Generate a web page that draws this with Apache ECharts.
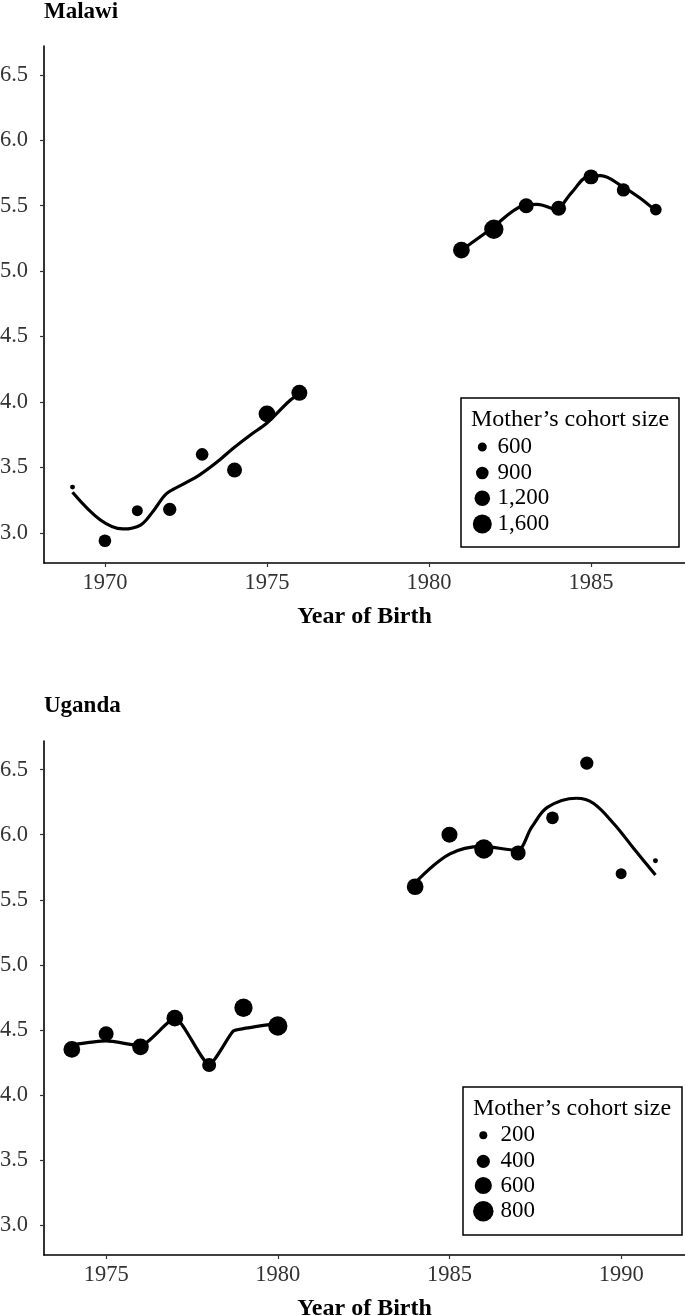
<!DOCTYPE html>
<html><head><meta charset="utf-8">
<script src="https://cdn.jsdelivr.net/npm/echarts@6/dist/echarts.min.js"></script>
<style>html,body{margin:0;padding:0;background:#fff}#c{width:685px;height:1316px}</style>
</head><body><div id="c"></div>
<script>
// ---------- DATA ----------
const malawiYears  = [1969,1970,1971,1972,1973,1974,1975,1976,1981,1982,1983,1984,1985,1986,1987];
const malawiValues = [3.35,2.94,3.17,3.18,3.60,3.48,3.91,4.07,5.16,5.32,5.50,5.48,5.72,5.62,5.47];
const malawiCohort = [330,910,760,970,910,1140,1330,1250,1330,1640,1140,1140,1140,970,820];

const malawiFitYears1  = [1969,1969.85,1970.55,1971.1,1971.5,1971.9,1972.4,1972.9,1973.45,1973.95,1974.5,1975,1975.7,1976];
const malawiFitValues1 = [3.31,3.10,3.03,3.06,3.17,3.30,3.37,3.44,3.54,3.645,3.75,3.84,4.01,4.06];
const malawiFitYears2  = [1981,1981.9,1982.9,1983.35,1983.9,1984.4,1984.87,1985.3,1985.95,1986.5,1987];
const malawiFitValues2 = [5.16,5.32,5.50,5.51,5.475,5.60,5.72,5.73,5.65,5.56,5.46];

const ugandaYears  = [1974,1975,1976,1977,1978,1979,1980,1984,1985,1986,1987,1988,1989,1990,1991];
const ugandaValues = [4.35,4.47,4.37,4.59,4.23,4.67,4.53,5.60,6.00,5.89,5.86,6.13,6.55,5.70,5.80];
const ugandaCohort = [575,487,575,575,438,665,725,575,538,725,487,379,405,307,115];

const ugandaFitYears1  = [1974,1975,1976,1977,1978,1978.7,1979,1980];
const ugandaFitValues1 = [4.385,4.415,4.38,4.59,4.235,4.49,4.51,4.55];
const ugandaFitYears2  = [1984,1985,1985.95,1986.95,1987.4,1987.85,1988.7,1989.2,1989.8,1990.35,1991];
const ugandaFitValues2 = [5.63,5.85,5.91,5.88,6.06,6.21,6.28,6.24,6.08,5.90,5.69];

const yTicks = [3.0,3.5,4.0,4.5,5.0,5.5,6.0,6.5];
const malawiXTicks = [1970,1975,1980,1985];
const ugandaXTicks = [1975,1980,1985,1990];

const malawiLegendBreaks = [600,900,1200,1600];
const malawiLegendLabels = ['600','900','1,200','1,600'];
const ugandaLegendBreaks = [200,400,600,800];
const ugandaLegendLabels = ['200','400','600','800'];

const titles = ['Malawi','Uganda'];
const legendTitle = 'Mother\u2019s cohort size';
const xName = 'Year of Birth';

// ---------- STYLE / HELPERS ----------
const FONT = '"Liberation Serif", "DejaVu Serif", serif';
const malawiSize = v => -6.8 + 0.645*Math.sqrt(v);
const ugandaSize = v => -4.5 + 0.884*Math.sqrt(v);
const zip = (xs, ys) => xs.map((x,i)=>[x, ys[i]]);

function xAxisCfg(grid, min, max, ticks){
  return {
    type:'value', gridIndex:grid, min:min, max:max,
    splitLine:{show:false},
    axisLine:{show:true, onZero:false, lineStyle:{color:'#000', width:1.6}},
    axisTick:{show:true, customValues:ticks, length:4, lineStyle:{color:'#333', width:1.2}},
    axisLabel:{customValues:ticks, formatter:v=>String(Math.round(v)), fontFamily:FONT, fontSize:22.5, color:'#333', margin:9},
    name:xName, nameLocation:'middle', nameGap:42,
    nameTextStyle:{fontFamily:FONT, fontSize:24, fontWeight:'bold', color:'#000'}
  };
}
function yAxisCfg(grid){
  return {
    type:'value', gridIndex:grid, min:2.77, max:6.72,
    splitLine:{show:false},
    axisLine:{show:true, onZero:false, lineStyle:{color:'#000', width:1.6}},
    axisTick:{show:true, customValues:yTicks, length:4, lineStyle:{color:'#333', width:1.2}},
    axisLabel:{customValues:yTicks, formatter:v=>v.toFixed(1), fontFamily:FONT, fontSize:22.5, color:'#333', margin:16}
  };
}
function fitSeries(idx, xs, ys, sm){
  return {type:'line', xAxisIndex:idx, yAxisIndex:idx, data:zip(xs,ys), smooth:sm,
    showSymbol:false, symbol:'none', lineStyle:{color:'#000', width:3.2}, silent:true, z:3};
}
function pointSeries(idx, xs, ys, sizes, fn){
  return {type:'scatter', xAxisIndex:idx, yAxisIndex:idx,
    data:xs.map((x,i)=>({value:[x, ys[i]], symbolSize:fn(sizes[i])})),
    itemStyle:{color:'#000', opacity:1}, silent:true, z:2};
}
function legendGroup(x, y, w, h, breaks, labels, fn, cx, tx, rowY){
  const children = [
    {type:'rect', shape:{x:0, y:0, width:w, height:h}, style:{fill:'#fff', stroke:'#000', lineWidth:1.5}},
    {type:'text', x:10, y:22, style:{text:legendTitle, font:'24px '+FONT, fill:'#000', textVerticalAlign:'middle'}}
  ];
  breaks.forEach((b,i)=>{
    const r = fn(b)/2;
    children.push({type:'circle', shape:{cx:cx, cy:rowY[i], r:r}, style:{fill:'#000'}});
    children.push({type:'text', x:tx, y:rowY[i], style:{text:labels[i], font:'23px '+FONT, fill:'#000', textVerticalAlign:'middle'}});
  });
  return {type:'group', x:x, y:y, children:children};
}

const chart = echarts.init(document.getElementById('c'), null, {renderer:'canvas'});
chart.setOption({
  animation:false,
  backgroundColor:'#fff',
  title:[
    {text:titles[0], left:44, top:1, padding:0, textStyle:{fontFamily:FONT, fontSize:23, fontWeight:'bold', color:'#000'}},
    {text:titles[1], left:44, top:695, padding:0, textStyle:{fontFamily:FONT, fontSize:23, fontWeight:'bold', color:'#000'}}
  ],
  grid:[
    {left:44, top:46, right:0, height:517, containLabel:false, outerBoundsMode:'none'},
    {left:44, top:741, right:0, height:514, containLabel:false, outerBoundsMode:'none'}
  ],
  xAxis:[ xAxisCfg(0, 1968.12, 1987.9, malawiXTicks), xAxisCfg(1, 1973.19, 1991.86, ugandaXTicks) ],
  yAxis:[ yAxisCfg(0), yAxisCfg(1) ],
  series:[
    pointSeries(0, malawiYears, malawiValues, malawiCohort, malawiSize),
    fitSeries(0, malawiFitYears1, malawiFitValues1, 0.35),
    fitSeries(0, malawiFitYears2, malawiFitValues2, 0.35),
    pointSeries(1, ugandaYears, ugandaValues, ugandaCohort, ugandaSize),
    fitSeries(1, ugandaFitYears1, ugandaFitValues1, 0.2),
    fitSeries(1, ugandaFitYears2, ugandaFitValues2, 0.35)
  ],
  graphic:[
    legendGroup(461, 398, 218, 149, malawiLegendBreaks, malawiLegendLabels, malawiSize, 21.3, 36.5, [49,75,100.3,126]),
    legendGroup(463, 1087, 219, 148, ugandaLegendBreaks, ugandaLegendLabels, ugandaSize, 20.3, 37.5, [48.3,74.3,98.5,124.3])
  ]
});
</script></body></html>
